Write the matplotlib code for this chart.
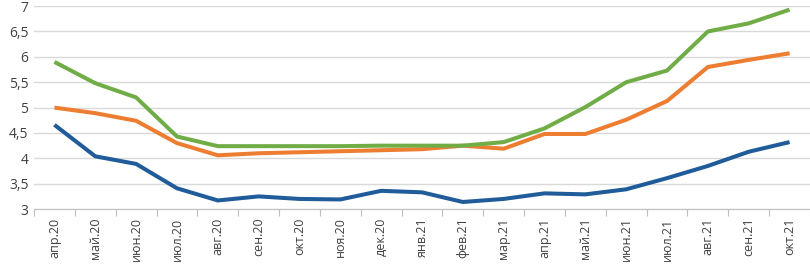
import matplotlib
matplotlib.use("Agg")
import matplotlib.pyplot as plt
from matplotlib.ticker import FixedLocator, FuncFormatter
import numpy as np

months = ["апр.20", "май.20", "июн.20", "июл.20", "авг.20", "сен.20", "окт.20",
          "ноя.20", "дек.20", "янв.21", "фев.21", "мар.21", "апр.21", "май.21",
          "июн.21", "июл.21", "авг.21", "сен.21", "окт.21"]
blue = [4.66, 4.04, 3.89, 3.41, 3.17, 3.25, 3.20, 3.19, 3.36, 3.33, 3.14, 3.20,
        3.31, 3.29, 3.39, 3.61, 3.85, 4.13, 4.32]
orange = [5.00, 4.89, 4.74, 4.30, 4.06, 4.10, 4.12, 4.14, 4.16, 4.18, 4.25, 4.19,
          4.48, 4.48, 4.76, 5.13, 5.80, 5.94, 6.07]
green = [5.90, 5.48, 5.20, 4.43, 4.24, 4.24, 4.24, 4.24, 4.25, 4.25, 4.25, 4.32,
         4.59, 5.01, 5.50, 5.73, 6.50, 6.66, 6.93]
yticks = [3, 3.5, 4, 4.5, 5, 5.5, 6, 6.5, 7]

plt.rcParams['font.family'] = ['Open Sans', 'DejaVu Sans']
fig = plt.figure(figsize=(8.1, 2.65), dpi=100)
ax = fig.add_axes([0.042, 0.211, 0.958, 0.766])

x = np.arange(len(months))
lw = 2.9
ax.plot(x, blue, color="#1F5C99", lw=lw, solid_capstyle="butt", zorder=3)
ax.plot(x, orange, color="#ED7D31", lw=lw, solid_capstyle="butt", zorder=3)
ax.plot(x, green, color="#70AD47", lw=lw, solid_capstyle="butt", zorder=3)

ax.set_xlim(-0.5, len(months) - 0.5)
ax.set_ylim(3, 7)
ax.set_yticks(yticks)
ax.yaxis.set_major_formatter(FuncFormatter(lambda v, p: ("%g" % v).replace(".", ",")))
ax.grid(axis="y", color="#D9D9D9", lw=1)
ax.set_axisbelow(True)

ax.set_xticks(x)
ax.set_xticklabels(months, rotation=90, fontsize=9, color="#404040")
ax.xaxis.set_minor_locator(FixedLocator(np.arange(-0.5, len(months), 1.0)))
ax.tick_params(axis="x", which="major", length=0, pad=6)
ax.tick_params(axis="x", which="minor", length=5, color="#BFBFBF", width=0.8)
ax.tick_params(axis="y", length=0, labelsize=10, labelcolor="#404040", pad=4)

for s in ["top", "right", "left"]:
    ax.spines[s].set_visible(False)
ax.spines["bottom"].set_color("#BFBFBF")
ax.spines["bottom"].set_linewidth(0.8)

fig.savefig("out.png", dpi=100)
